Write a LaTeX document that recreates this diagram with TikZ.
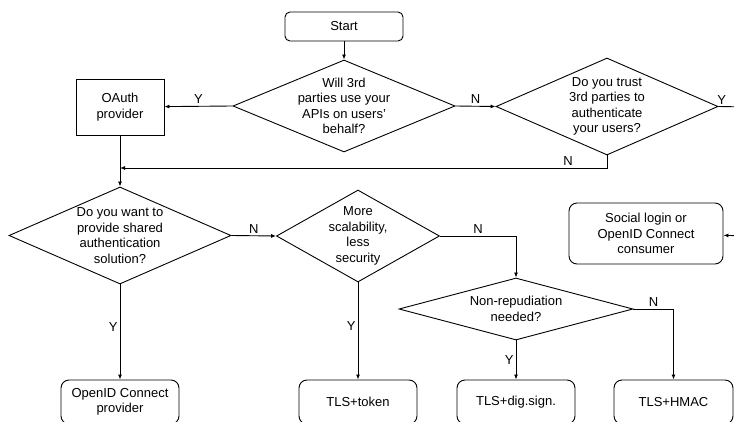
\documentclass[tikz,border=0pt]{standalone}
\usepackage{fontspec}
\setmainfont{Liberation Sans}
\usetikzlibrary{shapes.geometric, arrows.meta}

\begin{document}
\begin{tikzpicture}[
        x=1pt, y=-1pt,
        font=\fontsize{13}{15.5}\selectfont,
        line width=0.9pt,
        term/.style={rectangle, rounded corners=8pt, draw, inner sep=0pt, minimum width=118pt, minimum height=44pt, align=center},
        proc/.style={rectangle, draw, inner sep=0pt, align=center},
        decision/.style={diamond, draw, inner sep=0pt},
        arr/.style={-{Latex[length=5pt, width=4pt]}},
        lbl/.style={inner sep=2pt},
    ]
        \useasboundingbox (0,0) rectangle (734,422);
        \clip (0,0) rectangle (734,422);

        % start and the two first questions
        \node[term, rounded corners=5pt, minimum height=29pt] (start) at (344,26.5) {Start};
        \node[decision, minimum width=222pt, minimum height=92pt,
              label={[align=center]center:Will 3rd\\parties use your\\APIs on users'\\behalf?}] (thirdapi) at (344,106) {};
        \node[proc, minimum width=88pt, minimum height=56pt] (oauth) at (120,107) {OAuth\\provider};
        \node[decision, minimum width=222pt, minimum height=97pt,
              label={[align=center]center:Do you trust\\3rd parties to\\authenticate\\your users?}] (trust) at (607,106.5) {};
        \node[term, rounded corners=8pt, minimum width=154pt, minimum height=61pt] (social) at (646,233.5) {Social login or\\OpenID Connect\\consumer};
        \coordinate (trustout) at (750,107);
        \coordinate (socialin) at (750,236);
        \coordinate (merge) at (120,168);

        % second row
        \node[decision, minimum width=222pt, minimum height=97pt,
              label={[align=center]center:Do you want to\\provide shared\\authentication\\solution?}] (shared) at (120,235.5) {};
        \node[decision, minimum width=163pt, minimum height=92pt,
              label={[align=center]center:More\\scalability,\\less\\security}] (scal) at (358,236) {};
        \node[decision, minimum width=234pt, minimum height=62pt,
              label={[align=center]center:Non-repudiation\\needed?}] (nonrep) at (516,309) {};

        % results
        \node[term] (oidcp) at (120,402) {OpenID Connect\\provider};
        \node[term] (token) at (358,402) {TLS+token};
        \node[term] (dsig) at (516,402) {TLS+dig.sign.};
        \node[term, minimum width=119pt] (hmac) at (673.5,402) {TLS+HMAC};

        \draw[arr] (start) -- (thirdapi.north);
        \draw[arr] (thirdapi.west) -- node[above, lbl]{Y} (oauth);
        \draw[arr] (thirdapi.east) -- node[above, lbl]{N} (trust.west);
        \draw (trust.east) -- node[pos=0.1, above, lbl]{Y} (trustout);
        \draw[arr] (socialin) -- (social);
        \draw[arr] (trust.south) |- node[pos=0.54, above, lbl]{N} (merge);
        \draw[arr] (oauth) -- (shared.north);
        \draw[arr] (shared.east) -- node[above, lbl]{N} (scal.west);
        \draw[arr] (shared.south) -- node[left, lbl, pos=0.45]{Y} (oidcp);
        \draw[arr] (scal.east) -| node[pos=0.25, above, lbl]{N} (nonrep.north);
        \draw[arr] (scal.south) -- node[left, lbl, pos=0.45]{Y} (token);
        \draw[arr] (nonrep.south) -- node[left, lbl]{Y} (dsig);
        \draw[arr] (nonrep.east) -| node[pos=0.25, above, lbl]{N} (hmac);
    \end{tikzpicture}
\end{document}
